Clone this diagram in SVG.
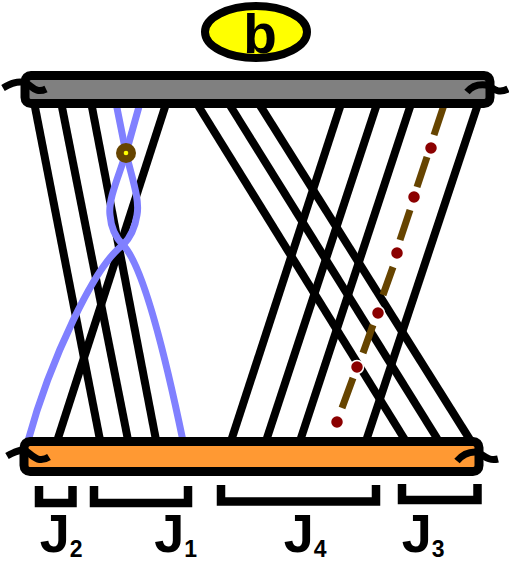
<svg xmlns="http://www.w3.org/2000/svg" width="509" height="563" viewBox="0 0 509 563">
<style>
.strand{stroke:#000;stroke-width:8;fill:none}
.blue{stroke:#8080FF;stroke-width:7;fill:none}
.dash{stroke:#664400;stroke-width:7;fill:none}
.rdot{fill:#8B0000;stroke:#fff;stroke-width:1.5}
.tilde{stroke:#000;stroke-width:7;fill:none}
.bar{stroke:#000;stroke-width:9}
.brk{stroke:#000;stroke-width:8.5;fill:none}
.lab{font-family:"Liberation Sans",Arial,sans-serif;font-weight:bold;fill:#000}
.sub{font-size:23px}
</style>
<g id="connectors">
<line class="strand" x1="34.2" y1="103" x2="100.2" y2="441"/>
<line class="strand" x1="61.2" y1="103" x2="128.2" y2="441"/>
<line class="strand" x1="91.2" y1="103" x2="156.2" y2="441"/>
<line class="strand" x1="166.3" y1="103" x2="57.1" y2="441"/>
<line class="strand" x1="196.5" y1="103" x2="405.7" y2="441"/>
<line class="strand" x1="228.5" y1="103" x2="438.7" y2="441"/>
<line class="strand" x1="258.5" y1="103" x2="470.8" y2="441"/>
<line class="strand" x1="341.3" y1="103" x2="231" y2="441"/>
<line class="strand" x1="377.3" y1="103" x2="266" y2="441"/>
<line class="strand" x1="411.3" y1="103" x2="300" y2="441"/>
<line class="strand" x1="478.3" y1="103" x2="366" y2="441"/>
<path class="blue" d="M116,103 L126,153 C132,178 140,200 137,215 C135,228 130,238 123,245 C95,265 50,360 28,441"/>
<path class="blue" d="M140,103 L126,153 C118,178 108,200 110,215 C111,228 116,238 123,245 C140,262 160,330 183,441"/>
<path class="dash" d="M444,105 L434,135 M427,157 L417,187 M410,210 L400,240 M393,267 L383,295 M373,325 L363,353 M353,378 L342,408"/>
</g>
<g id="markers">
<circle cx="126" cy="153" r="10" fill="#664400"/>
<circle cx="126" cy="153" r="2.3" fill="#FFFF00"/>
<circle class="rdot" cx="431" cy="148" r="6.5"/>
<circle class="rdot" cx="414" cy="197" r="6.5"/>
<circle class="rdot" cx="397" cy="253" r="6.5"/>
<circle class="rdot" cx="378" cy="313" r="6.5"/>
<circle class="rdot" cx="357" cy="367" r="6.5"/>
<circle class="rdot" cx="337" cy="422" r="6.5"/>
</g>
<g id="top-bar">
<rect class="bar" x="25" y="75.5" width="465" height="28" rx="6" fill="#808080"/>
<path class="tilde" d="M3,88 C10,84 18,80 26,83 C32,86 36,94 46,89"/>
<path class="tilde" d="M467,92 C472,86 478,84 486,85 C492,86 496,95 508,89"/>
</g>
<g id="bottom-bar">
<rect class="bar" x="24" y="441.5" width="455" height="30" rx="6" fill="#FF9933"/>
<path class="tilde" d="M7,456 C14,452 20,449 26,451 C32,455 38,464 49,457"/>
<path class="tilde" d="M457,461 C462,455 468,452 475,452 C482,452 486,462 498,459"/>
</g>
<g id="b-node">
<ellipse cx="256" cy="32" rx="51" ry="26" fill="#FFFF00" stroke="#000" stroke-width="8"/>
<text class="lab" x="260" y="53" font-size="55" text-anchor="middle">b</text>
</g>
<g id="J2">
<path class="brk" d="M39,486 V503 H72.5 V486"/>
<text class="lab" x="39.75" y="552" font-size="54">J<tspan class="sub" dy="5">2</tspan></text>
</g>
<g id="J1">
<path class="brk" d="M94,486 V503 H188 V486"/>
<text class="lab" x="154.25" y="552" font-size="54">J<tspan class="sub" dy="5">1</tspan></text>
</g>
<g id="J4">
<path class="brk" d="M221,485 V501.5 H376 V485"/>
<text class="lab" x="283.75" y="552" font-size="54">J<tspan class="sub" dy="5">4</tspan></text>
</g>
<g id="J3">
<path class="brk" d="M402,484 V500 H477.5 V484"/>
<text class="lab" x="401.75" y="552" font-size="54">J<tspan class="sub" dy="5">3</tspan></text>
</g>
</svg>
